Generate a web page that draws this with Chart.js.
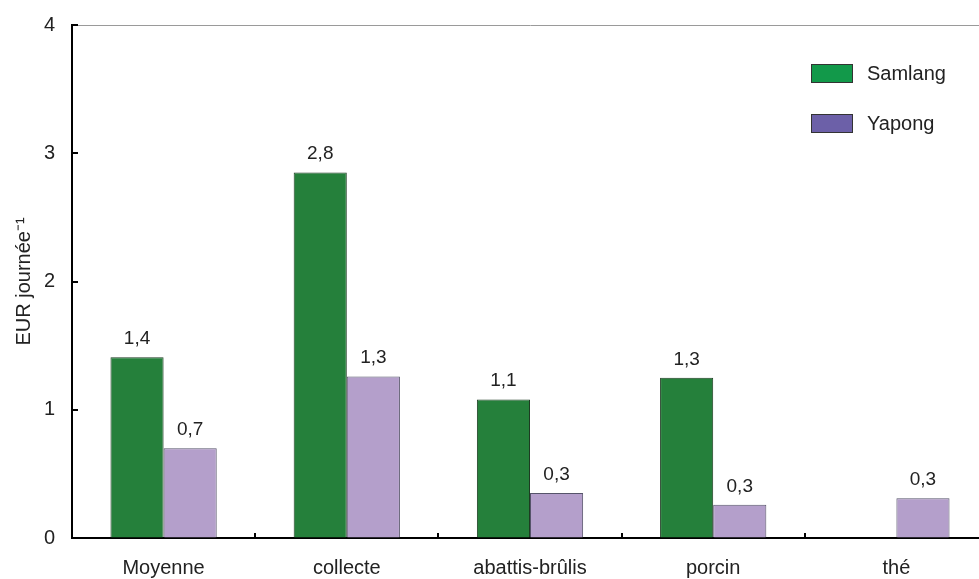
<!DOCTYPE html>
<html lang="fr">
<head>
<meta charset="utf-8">
<title>EUR journée</title>
<script src="https://cdn.jsdelivr.net/npm/chart.js@4/dist/chart.umd.min.js"></script>
<style>
    html, body { margin: 0; padding: 0; background: #fff; overflow: hidden; }
    #grafico { display: block; }
</style>
</head>
<body>
<canvas id="grafico" width="990" height="579"></canvas>
<script>
// ── Dados ────────────────────────────────────────────────────────────────
const CATEGORIAS      = ["Moyenne", "collecte", "abattis-brûlis", "porcin", "thé"];
const SAMLANG         = [1.41, 2.85, 1.08, 1.25, null];
const YAPONG          = [0.70, 1.26, 0.35, 0.26, 0.31];
const ROTULOS_SAMLANG = ["1,4", "2,8", "1,1", "1,3", ""];
const ROTULOS_YAPONG  = ["0,7", "1,3", "0,3", "0,3", "0,3"];
const Y_TICKS         = ["0", "1", "2", "3", "4"];
const SERIES          = ["Samlang", "Yapong"];

;(function () {

    // ── Constantes ───────────────────────────────────────────────────────────

    const FONTE = "'Liberation Sans', Arial, Helvetica, sans-serif";

    const COLORS = {
        samlang:       "#25803b",
        samlangBorda:  "#1d3b22",
        yapong:        "#b49fcb",
        yapongBorda:   "#56546a",
        legenda:       ["#12994a", "#6c60a8"],
        legendaBorda:  "#333",
        texto:         "#222",
        eixo:          "#000",
        topo:          "#9a9a9a"
    };

    const ROTULOS = [ROTULOS_SAMLANG, ROTULOS_YAPONG];

    // ── Plugins ──────────────────────────────────────────────────────────────

    // Rótulos de valor acima de cada barra
    const rotulosPlugin = {
        id: "rotulos",
        afterDatasetsDraw(chart) {
            const ctx = chart.ctx;
            ctx.save();
            ctx.font = `19px ${FONTE}`;
            ctx.fillStyle = COLORS.texto;
            ctx.textAlign = "center";
            ctx.textBaseline = "alphabetic";
            chart.data.datasets.forEach((ds, i) => {
                chart.getDatasetMeta(i).data.forEach((bar, j) => {
                    const txt = ROTULOS[i][j];
                    if (!txt || ds.data[j] == null) return;
                    ctx.fillText(txt, bar.x, bar.y - 13);
                });
            });
            ctx.restore();
        }
    };

    // Marcas de escala voltadas para dentro (o Chart.js só desenha para fora)
    const ticksInternosPlugin = {
        id: "ticksInternos",
        afterDraw(chart) {
            const ctx = chart.ctx;
            const area = chart.chartArea;
            const sx = chart.scales.x;
            const sy = chart.scales.y;
            ctx.save();
            ctx.strokeStyle = COLORS.eixo;
            ctx.lineWidth = 2;
            ctx.beginPath();
            sy.ticks.forEach((t, i) => {
                const y = Math.round(sy.getPixelForTick(i));
                ctx.moveTo(area.left, y);
                ctx.lineTo(area.left + 6, y);
            });
            for (let i = 1; i < CATEGORIAS.length; i++) {
                const x = Math.round(sx.getPixelForValue(i - 0.5));
                ctx.moveTo(x, area.bottom);
                ctx.lineTo(x, area.bottom - 5);
            }
            ctx.stroke();
            ctx.restore();
        }
    };

    // Legenda desenhada dentro da área do gráfico (cores diferentes das barras)
    const legendaPlugin = {
        id: "legendaInterna",
        afterDraw(chart) {
            const ctx = chart.ctx;
            const x0 = 811, y0 = 64, passo = 50;
            ctx.save();
            ctx.font = `20px ${FONTE}`;
            ctx.textBaseline = "middle";
            ctx.textAlign = "left";
            SERIES.forEach((nome, i) => {
                const y = y0 + i * passo;
                ctx.fillStyle = COLORS.legenda[i];
                ctx.fillRect(x0, y, 42, 19);
                ctx.strokeStyle = COLORS.legendaBorda;
                ctx.lineWidth = 1;
                ctx.strokeRect(x0 + 0.5, y + 0.5, 41, 18);
                ctx.fillStyle = COLORS.texto;
                ctx.fillText(nome, x0 + 56, y + 10);
            });
            ctx.restore();
        }
    };

    // ── Gráfico ──────────────────────────────────────────────────────────────

    function getEl(id) {
        return document.getElementById(id);
    }

    new Chart(getEl("grafico"), {
        type: "bar",
        data: {
            labels: CATEGORIAS,
            datasets: [
                {
                    label: SERIES[0],
                    data: SAMLANG,
                    backgroundColor: COLORS.samlang,
                    borderColor: COLORS.samlangBorda,
                    borderWidth: 1
                },
                {
                    label: SERIES[1],
                    data: YAPONG,
                    backgroundColor: COLORS.yapong,
                    borderColor: COLORS.yapongBorda,
                    borderWidth: 1
                }
            ]
        },
        options: {
            responsive: false,
            animation: false,
            devicePixelRatio: 1,
            categoryPercentage: 0.58,
            barPercentage: 1,
            layout: { padding: { top: 25, right: 2, left: 0, bottom: 0 } },
            plugins: {
                legend: { display: false },
                tooltip: { enabled: false }
            },
            scales: {
                x: {
                    afterFit(scale) {
                        scale.height = 41;
                        scale.paddingLeft = 0;
                        scale.paddingRight = 0;
                    },
                    grid: {
                        offset: true,
                        drawOnChartArea: false,
                        drawTicks: false
                    },
                    border: { color: COLORS.eixo, width: 2 },
                    ticks: {
                        color: COLORS.texto,
                        font: { family: FONTE, size: 20 },
                        padding: 18,
                        maxRotation: 0
                    }
                },
                y: {
                    min: 0,
                    max: 4,
                    afterFit(scale) {
                        // largura fixa e sem folga extra para o rótulo "4"
                        scale.width = 72;
                        scale.paddingTop = 0;
                        scale.paddingBottom = 0;
                    },
                    grid: {
                        color: c => (c.tick && c.tick.value === 4 ? COLORS.topo : "transparent"),
                        lineWidth: 1,
                        drawTicks: false
                    },
                    border: { color: COLORS.eixo, width: 2 },
                    ticks: {
                        stepSize: 1,
                        color: COLORS.texto,
                        font: { family: FONTE, size: 20 },
                        padding: 17,
                        callback: (v, i) => Y_TICKS[i]
                    },
                    title: {
                        display: true,
                        text: "EUR journée⁻¹",
                        color: COLORS.texto,
                        font: { family: FONTE, size: 20 },
                        padding: { top: 12, bottom: 0 }
                    }
                }
            }
        },
        plugins: [rotulosPlugin, ticksInternosPlugin, legendaPlugin]
    });

})();
</script>
</body>
</html>
